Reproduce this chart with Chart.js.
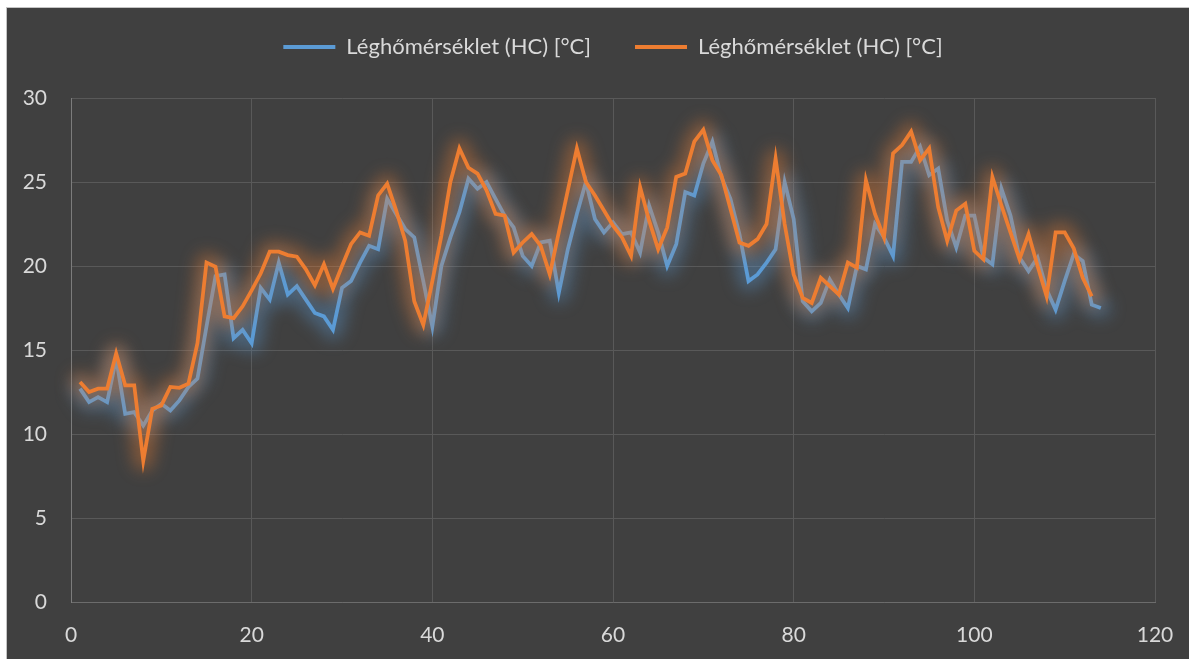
<!DOCTYPE html>
<html>
<head>
<meta charset="utf-8">
<title>Léghőmérséklet (HC)</title>
<script src="https://cdn.jsdelivr.net/npm/chart.js@4.4.1/dist/chart.umd.min.js"></script>
<style>
  html, body { margin: 0; padding: 0; background: #ffffff; overflow: hidden; }
  #frame {
    position: absolute; left: 6px; top: 7px;
    width: 1190px; height: 660px;
    border: 1px solid #c4c4c4;
    background: #404040;
    overflow: hidden;
  }
  #chart { position: absolute; left: 0; top: 0; }
</style>
</head>
<body>
<div id="frame"><canvas id="chart" width="1182" height="651"></canvas></div>
<script>
// Measurement index (sample number)
const sampleIndex = [
  1, 2, 3, 4, 5, 6, 7, 8, 9, 10, 11, 12, 13, 14, 15, 16, 17, 18, 19, 20,
  21, 22, 23, 24, 25, 26, 27, 28, 29, 30, 31, 32, 33, 34, 35, 36, 37, 38, 39, 40,
  41, 42, 43, 44, 45, 46, 47, 48, 49, 50, 51, 52, 53, 54, 55, 56, 57, 58, 59, 60,
  61, 62, 63, 64, 65, 66, 67, 68, 69, 70, 71, 72, 73, 74, 75, 76, 77, 78, 79, 80,
  81, 82, 83, 84, 85, 86, 87, 88, 89, 90, 91, 92, 93, 94, 95, 96, 97, 98, 99, 100,
  101, 102, 103, 104, 105, 106, 107, 108, 109, 110, 111, 112, 113, 114
];

// Air temperature, first series [°C]
const tempBlue = [
  12.7, 11.9, 12.2, 11.9, 14.5, 11.2, 11.3, 10.5, 11.4, 11.8,
  11.4, 12.0, 12.8, 13.3, 16.4, 19.4, 19.5, 15.7, 16.2, 15.4,
  18.7, 18.0, 20.2, 18.3, 18.8, 18.0, 17.2, 17.0, 16.2, 18.7,
  19.1, 20.2, 21.2, 21.0, 24.0, 23.1, 22.2, 21.7, 19.1, 16.4,
  20.0, 21.7, 23.2, 25.2, 24.6, 25.0, 24.0, 23.0, 22.3, 20.6,
  20.0, 21.4, 21.5, 18.4, 21.0, 23.1, 25.0, 22.8, 22.0, 22.6,
  21.9, 22.0, 20.8, 23.6, 22.0, 20.0, 21.3, 24.4, 24.2, 26.1,
  27.4, 25.3, 24.0, 21.9, 19.1, 19.5, 20.2, 21.0, 25.0, 22.8,
  17.9, 17.3, 17.8, 19.2, 18.3, 17.5, 20.0, 19.8, 22.5, 21.7,
  20.6, 26.2, 26.2, 27.1, 25.4, 25.8, 22.7, 21.1, 23.0, 23.0,
  20.5, 20.1, 24.6, 23.0, 20.5, 19.7, 20.5, 18.6, 17.4, 19.1,
  20.7, 20.3, 17.7, 17.5
];

// Air temperature, second series [°C]
const tempOrange = [
  13.1, 12.5, 12.7, 12.7, 14.8, 12.9, 12.9, 8.4, 11.5, 11.7,
  12.8, 12.75, 13.0, 15.4, 20.2, 19.95, 17.0, 16.9, 17.6, 18.55,
  19.55, 20.85, 20.85, 20.65, 20.55, 19.8, 18.85, 20.1, 18.65, 20.0,
  21.3, 22.0, 21.8, 24.2, 24.9, 23.3, 21.5, 17.9, 16.5, 19.1,
  21.8, 25.0, 27.0, 25.85, 25.5, 24.5, 23.1, 23.0, 20.8, 21.4,
  21.9, 21.2, 19.5, 22.0, 24.5, 27.0, 25.0, 24.2, 23.3, 22.4,
  21.7, 20.6, 24.7, 22.7, 21.0, 22.3, 25.3, 25.5, 27.4, 28.1,
  26.3, 25.4, 23.4, 21.4, 21.2, 21.6, 22.5, 26.4, 22.5, 19.5,
  18.1, 17.8, 19.3, 18.8, 18.3, 20.2, 19.9, 25.1, 23.1, 21.7,
  26.7, 27.2, 28.0, 26.3, 27.0, 23.5, 21.5, 23.3, 23.7, 20.9,
  20.4, 25.3, 23.6, 22.0, 20.4, 21.9, 20.0, 18.2, 22.0, 22.0,
  21.05, 19.3, 18.2
];

const seriesNames = ['Léghőmérséklet (HC) [°C]', 'Léghőmérséklet (HC) [°C]'];
const xTickValues = [0, 20, 40, 60, 80, 100, 120];
const yTickValues = [0, 5, 10, 15, 20, 25, 30];

function toPoints(values) {
  return values.map((v, i) => ({ x: sampleIndex[i], y: v }));
}

const BLUE = '#5b9bd5';
const ORANGE = '#ed7d31';
const TEXT = '#d9d9d9';
const GRID = '#595959';
const FONT = 'Lato, "Open Sans", sans-serif';

// Soft blurred halo painted under each line, following the element's points
const lineGlow = {
  id: 'lineGlow',
  beforeDatasetDraw(chart, args) {
    const ds = chart.data.datasets[args.index];
    const pts = args.meta.data;
    if (!pts.length) return;
    const ctx = chart.ctx;
    const area = chart.chartArea;
    ctx.save();
    ctx.beginPath();
    ctx.rect(area.left - 20, area.top - 30, area.width + 40, area.height + 30);
    ctx.clip();
    ctx.filter = 'blur(8px)';
    ctx.strokeStyle = ds.glowColor;
    ctx.lineWidth = 20;
    ctx.lineJoin = 'round';
    ctx.lineCap = 'round';
    ctx.beginPath();
    pts.forEach((p, i) => (i ? ctx.lineTo(p.x, p.y) : ctx.moveTo(p.x, p.y)));
    ctx.stroke();
    ctx.restore();
  }
};

// Give the legend band a fixed height so the plot starts lower
const legendBand = {
  id: 'legendBand',
  afterInit(chart) {
    const lg = chart.legend;
    if (!lg) return;
    const fit = lg.fit.bind(lg);
    lg.fit = function () { fit(); this.height = 106; };
  }
};

new Chart(document.getElementById('chart'), {
  type: 'line',
  data: {
    datasets: [
      {
        label: seriesNames[0],
        data: toPoints(tempBlue),
        borderColor: BLUE,
        backgroundColor: BLUE,
        glowColor: 'rgba(91,155,213,0.38)',
        borderWidth: 3.75,
        pointRadius: 0,
        tension: 0,
        order: 1
      },
      {
        label: seriesNames[1],
        data: toPoints(tempOrange),
        borderColor: ORANGE,
        backgroundColor: ORANGE,
        glowColor: 'rgba(237,125,49,0.38)',
        borderWidth: 3.75,
        pointRadius: 0,
        tension: 0,
        order: 0
      }
    ]
  },
  options: {
    responsive: false,
    animation: false,
    events: [],
    layout: { padding: { top: -16, right: 34, left: 0, bottom: 0 } },
    plugins: {
      tooltip: { enabled: false },
      legend: {
        position: 'top',
        fullSize: false,
        labels: {
          color: TEXT,
          font: { family: FONT, size: 22 },
          boxWidth: 52,
          boxHeight: 4,
          padding: 44,
          sort: (a, b) => a.datasetIndex - b.datasetIndex,
          generateLabels(chart) {
            const items = Chart.defaults.plugins.legend.labels.generateLabels(chart);
            items.forEach(it => { it.fillStyle = it.strokeStyle; it.lineWidth = 0; });
            return items;
          }
        }
      }
    },
    scales: {
      x: {
        type: 'linear',
        min: 0,
        max: 120,
        afterFit(scale) {
          scale.height = 57;
          scale.paddingLeft = 0;
          scale.paddingRight = 0;
        },
        afterBuildTicks(scale) { scale.ticks = xTickValues.map(v => ({ value: v })); },
        grid: { color: GRID, lineWidth: 1, drawTicks: false },
        border: { color: '#6c6c6c', width: 1 },
        ticks: {
          color: TEXT,
          font: { family: FONT, size: 21 },
          padding: 21,
          maxRotation: 0
        }
      },
      y: {
        type: 'linear',
        min: 0,
        max: 30,
        afterFit(scale) { scale.width = 64; },
        afterBuildTicks(scale) { scale.ticks = yTickValues.map(v => ({ value: v })); },
        grid: { color: GRID, lineWidth: 1, drawTicks: false },
        border: { color: '#7c7c7c', width: 1 },
        ticks: {
          color: TEXT,
          font: { family: FONT, size: 21 },
          padding: 24
        }
      }
    }
  },
  plugins: [lineGlow, legendBand]
});
</script>
</body>
</html>
